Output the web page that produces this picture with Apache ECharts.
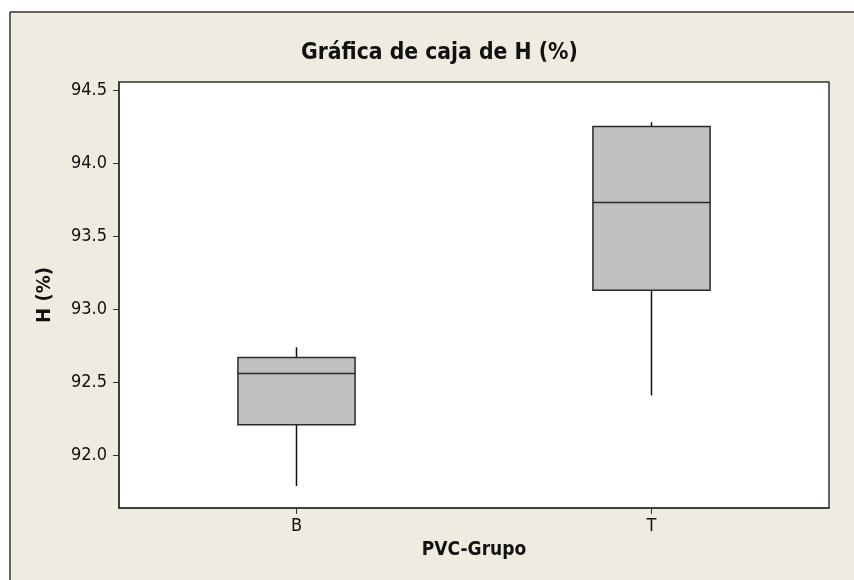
<!DOCTYPE html>
<html>
<head>
<meta charset="utf-8">
<script src="https://cdn.jsdelivr.net/npm/echarts@6/dist/echarts.min.js"></script>
<style>html,body{margin:0;padding:0;background:#fff}#c{width:854px;height:580px}</style>
</head>
<body>
<div id="c"></div>
<script>
const categories = ['B', 'T'];
const whiskerLow = [91.79, 92.41];
const q1 = [92.21, 93.13];
const median = [92.56, 93.73];
const q3 = [92.67, 94.25];
const whiskerHigh = [92.74, 94.28];
const yTicks = [92.0, 92.5, 93.0, 93.5, 94.0, 94.5];

const FONT = "'DejaVu Sans Condensed', 'DejaVu Sans', sans-serif";
const BG = '#efebe1';

const data = categories.map((c, i) => [i, whiskerLow[i], q1[i], median[i], q3[i], whiskerHigh[i]]);

const chart = echarts.init(document.getElementById('c'));
chart.setOption({
  backgroundColor: BG,
  animation: false,
  title: {
    text: 'Gráfica de caja de H (%)',
    left: 301,
    top: 42,
    padding: 0,
    textStyle: { fontFamily: FONT, fontWeight: 'bold', fontSize: 22.7, color: '#111' }
  },
  graphic: [
    { type: 'rect', shape: { x: 0, y: 0, width: 854, height: 12 }, style: { fill: '#fff' }, silent: true },
    { type: 'rect', shape: { x: 0, y: 0, width: 10, height: 580 }, style: { fill: '#fff' }, silent: true },
    { type: 'line', shape: { x1: 10, y1: 12, x2: 854, y2: 12 }, style: { stroke: '#333', lineWidth: 1.5 }, silent: true },
    { type: 'line', shape: { x1: 10, y1: 12, x2: 10, y2: 580 }, style: { stroke: '#333', lineWidth: 1.5 }, silent: true }
  ],
  grid: {
    left: 119, right: 25, top: 82, bottom: 72,
    show: true, backgroundColor: '#fff', borderColor: '#333', borderWidth: 1.5
  },
  xAxis: {
    type: 'category',
    data: categories,
    boundaryGap: true,
    name: 'PVC-Grupo',
    nameLocation: 'middle',
    nameGap: 33,
    nameTextStyle: { fontFamily: FONT, fontWeight: 'bold', fontSize: 19, color: '#111' },
    axisLine: { show: true, lineStyle: { color: '#333', width: 1.5 } },
    axisTick: { show: true, alignWithLabel: true, length: 6, lineStyle: { color: '#333' } },
    axisLabel: { fontFamily: FONT, fontSize: 18, color: '#111', margin: 9 },
    splitLine: { show: false }
  },
  yAxis: {
    type: 'value',
    min: 91.64,
    max: 94.555,
    name: 'H (%)',
    nameLocation: 'middle',
    nameRotate: 90,
    nameGap: 64,
    nameTextStyle: { fontFamily: FONT, fontWeight: 'bold', fontSize: 20, color: '#111' },
    axisLine: { show: true, lineStyle: { color: '#333', width: 1.5 } },
    axisTick: { show: true, length: 6, customValues: yTicks, lineStyle: { color: '#333' } },
    axisLabel: { fontFamily: FONT, fontSize: 18, color: '#111', margin: 12, customValues: yTicks,
      formatter: v => v.toFixed(1) },
    splitLine: { show: false }
  },
  series: [{
    type: 'custom',
    data: data,
    encode: { x: 0, y: [1, 2, 3, 4, 5] },
    renderItem: function (params, api) {
      const x = api.value(0);
      const pLow = api.coord([x, api.value(1)]);
      const pQ1 = api.coord([x, api.value(2)]);
      const pMed = api.coord([x, api.value(3)]);
      const pQ3 = api.coord([x, api.value(4)]);
      const pHigh = api.coord([x, api.value(5)]);
      const w = api.size([1, 0])[0] * 0.33;
      const cx = pQ1[0];
      const lineStyle = { stroke: '#111', lineWidth: 1.5 };
      return {
        type: 'group',
        children: [
          { type: 'line', shape: { x1: cx, y1: pHigh[1], x2: cx, y2: pQ3[1] }, style: lineStyle },
          { type: 'line', shape: { x1: cx, y1: pQ1[1], x2: cx, y2: pLow[1] }, style: lineStyle },
          { type: 'rect', shape: { x: cx - w / 2, y: pQ3[1], width: w, height: pQ1[1] - pQ3[1] },
            style: { fill: '#c0c0c0', stroke: '#2a2a2a', lineWidth: 1.5 } },
          { type: 'line', shape: { x1: cx - w / 2, y1: pMed[1], x2: cx + w / 2, y2: pMed[1] },
            style: { stroke: '#2a2a2a', lineWidth: 1.5 } }
        ]
      };
    }
  }]
});
</script>
</body>
</html>
